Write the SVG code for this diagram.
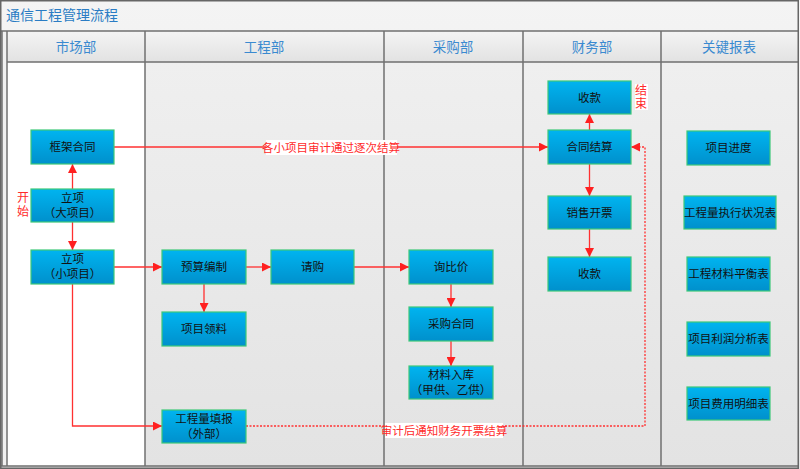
<svg xmlns="http://www.w3.org/2000/svg" width="800" height="469" viewBox="0 0 800 469">
<defs>
<linearGradient id="gBox" x1="0" y1="0" x2="0" y2="1">
<stop offset="0" stop-color="#00b4f0"/>
<stop offset="1" stop-color="#0090cc"/>
</linearGradient>
<linearGradient id="gHead" x1="0" y1="0" x2="0" y2="1">
<stop offset="0" stop-color="#f4f4f4"/>
<stop offset="1" stop-color="#e2e2e2"/>
</linearGradient>
<linearGradient id="gLane" x1="0" y1="0" x2="0" y2="1">
<stop offset="0" stop-color="#efefef"/>
<stop offset="1" stop-color="#e3e3e3"/>
</linearGradient>
<marker id="arr" viewBox="0 0 10 10" refX="10" refY="5" markerWidth="9" markerHeight="9" markerUnits="userSpaceOnUse" orient="auto">
<path d="M0,0 L10,5 L0,10 z" fill="#ff2020"/>
</marker>
<style>
.box{fill:url(#gBox);stroke:#3cc878;stroke-width:1.2}
.t{font-family:"Liberation Sans","Noto Sans CJK SC",sans-serif;font-size:11.5px;fill:#111;text-anchor:middle}
.h{font-family:"Liberation Sans","Noto Sans CJK SC",sans-serif;font-size:13.5px;fill:#3a8ad0;text-anchor:middle}
.lbl{font-family:"Liberation Sans","Noto Sans CJK SC",sans-serif;font-size:11.5px;fill:#ff2a2a;text-anchor:middle}
.c{fill:none;stroke:#ff3030;stroke-width:1.3}
.d{fill:none;stroke:#ff3030;stroke-width:1.3;stroke-dasharray:2,1.5}
.grid{fill:none;stroke:#707070;stroke-width:1.5}
</style>
</defs>
<g id="background">
<rect x="0" y="0" width="800" height="469" fill="url(#gHead)"/>
<rect x="7" y="62" width="138" height="404" fill="#ffffff"/>
<rect x="145" y="62" width="653" height="404" fill="url(#gLane)"/>
<rect x="7" y="31" width="791" height="31" fill="url(#gHead)"/>
<rect x="1" y="31" width="6" height="435" fill="#f0f0f0"/>
<text x="6" y="20" style="font-family:'Liberation Sans','Noto Sans CJK SC',sans-serif;font-size:14px;fill:#2a7cc4">通信工程管理流程</text>
<path class="grid" d="M1,31 H798 M7,62 H798 M2,31 V466 M7,31 V466 M145,31 V466 M384,31 V466 M523,31 V466 M661,31 V466 M1,466 H798"/>
<rect x="0.75" y="0.75" width="797.5" height="467.5" fill="none" stroke="#666" stroke-width="1.5"/>
<text class="h" x="76" y="52">市场部</text>
<text class="h" x="264" y="52">工程部</text>
<text class="h" x="453" y="52">采购部</text>
<text class="h" x="592" y="52">财务部</text>
<text class="h" x="729" y="52">关键报表</text>
</g>
<g id="connectors">
<path class="c" d="M72.5,189 V164" marker-end="url(#arr)"/>
<path class="c" d="M72.5,222 V250" marker-end="url(#arr)"/>
<path class="c" d="M114,267 H162" marker-end="url(#arr)"/>
<path class="c" d="M72.5,284 V426 H162" marker-end="url(#arr)"/>
<path class="c" d="M246,267 H271" marker-end="url(#arr)"/>
<path class="c" d="M204,284 V312" marker-end="url(#arr)"/>
<path class="c" d="M354,267 H409" marker-end="url(#arr)"/>
<path class="c" d="M451,284 V307" marker-end="url(#arr)"/>
<path class="c" d="M451,341 V366" marker-end="url(#arr)"/>
<path class="c" d="M114,147 H548" marker-end="url(#arr)"/>
<path class="c" d="M589.5,130 V114" marker-end="url(#arr)"/>
<path class="c" d="M589.5,164 V196" marker-end="url(#arr)"/>
<path class="c" d="M589.5,229 V257" marker-end="url(#arr)"/>
<path class="d" d="M246,426 H645 V147 H631" marker-end="url(#arr)"/>
<rect x="266" y="140" width="131" height="15" fill="#ffffff"/>
<text class="lbl" x="331" y="152">各小项目审计通过逐次结算</text>
<rect x="385" y="423" width="118" height="15" fill="#ffffff"/>
<text class="lbl" x="444" y="435">审计后通知财务开票结算</text>
</g>
<g id="start-label">
<text class="lbl" x="23" y="202" style="font-size:12px">开</text>
<text class="lbl" x="23" y="216" style="font-size:12px">始</text>
</g>
<g id="end-label">
<rect x="635" y="84" width="13" height="26" fill="#ffffff"/>
<text class="lbl" x="641" y="95" style="font-size:12px">结</text>
<text class="lbl" x="641" y="108" style="font-size:12px">束</text>
</g>
<g id="n-kuangjia"><rect class="box" x="31" y="130" width="83" height="34"/><text class="t" x="72.5" y="151">框架合同</text></g>
<g id="n-lixiang-da"><rect class="box" x="31" y="189" width="83" height="33"/><text class="t" x="72.5" y="202">立项</text><text class="t" x="72.5" y="217">（大项目）</text></g>
<g id="n-lixiang-xiao"><rect class="box" x="31" y="250" width="83" height="34"/><text class="t" x="72.5" y="263">立项</text><text class="t" x="72.5" y="278">（小项目）</text></g>
<g id="n-yusuan"><rect class="box" x="162" y="250" width="84" height="34"/><text class="t" x="204" y="271">预算编制</text></g>
<g id="n-qinggou"><rect class="box" x="271" y="250" width="83" height="34"/><text class="t" x="312.5" y="271">请购</text></g>
<g id="n-lingliao"><rect class="box" x="162" y="312" width="84" height="34"/><text class="t" x="204" y="333">项目领料</text></g>
<g id="n-tianbao"><rect class="box" x="162" y="410" width="84" height="33"/><text class="t" x="204" y="423">工程量填报</text><text class="t" x="204" y="438">（外部）</text></g>
<g id="n-xunbijia"><rect class="box" x="409" y="250" width="84" height="34"/><text class="t" x="451" y="271">询比价</text></g>
<g id="n-caigou"><rect class="box" x="409" y="307" width="84" height="34"/><text class="t" x="451" y="328">采购合同</text></g>
<g id="n-ruku"><rect class="box" x="409" y="366" width="84" height="33"/><text class="t" x="451" y="379">材料入库</text><text class="t" x="451" y="394">（甲供、乙供）</text></g>
<g id="n-shoukuan-top"><rect class="box" x="548" y="81" width="83" height="33"/><text class="t" x="589.5" y="102">收款</text></g>
<g id="n-jiesuan"><rect class="box" x="548" y="130" width="83" height="34"/><text class="t" x="589.5" y="151">合同结算</text></g>
<g id="n-kaipiao"><rect class="box" x="548" y="196" width="83" height="33"/><text class="t" x="589.5" y="217">销售开票</text></g>
<g id="n-shoukuan-bottom"><rect class="box" x="548" y="257" width="83" height="34"/><text class="t" x="589.5" y="278">收款</text></g>
<g id="n-jindu"><rect class="box" x="687" y="131" width="83" height="34"/><text class="t" x="728.5" y="152">项目进度</text></g>
<g id="n-zhixing"><rect class="box" x="684" y="196" width="92" height="33"/><text class="t" x="730" y="217">工程量执行状况表</text></g>
<g id="n-pingheng"><rect class="box" x="687" y="257" width="83" height="34"/><text class="t" x="728.5" y="278">工程材料平衡表</text></g>
<g id="n-lirun"><rect class="box" x="687" y="322" width="83" height="34"/><text class="t" x="728.5" y="343">项目利润分析表</text></g>
<g id="n-feiyong"><rect class="box" x="687" y="387" width="83" height="33"/><text class="t" x="728.5" y="408">项目费用明细表</text></g>
</svg>
